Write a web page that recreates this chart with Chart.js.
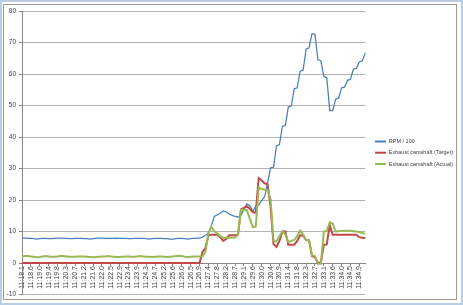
<!DOCTYPE html>
<html>
<head>
<meta charset="utf-8">
<script src="https://cdn.jsdelivr.net/npm/chart.js@4.4.1/dist/chart.umd.min.js"></script>
<style>
  html, body { margin: 0; padding: 0; background: #fff; }
  #wrap { position: relative; width: 463px; height: 305px; overflow: hidden; }
  canvas { position: absolute; left: 0; top: 0; }
  .frame-outer { position: absolute; left: 0; top: 0; width: 459px; height: 301px; border: 2px solid #b9cde5; pointer-events: none; }
  .frame-inner { position: absolute; left: 3px; top: 4px; width: 452px; height: 294px; border: 1px solid #9a9a9a; pointer-events: none; }
</style>
</head>
<body>
<div id="wrap">
  <canvas id="c" width="463" height="305"></canvas>
  <div class="frame-inner"></div>
  <div class="frame-outer"></div>
</div>
<script>
// Tick labels shown on the time axis (one label every 3 samples)
const tickLabels = ["11:18.1","11:18.6","11:19.0","11:19.4","11:19.8","11:20.3","11:20.7","11:21.2","11:21.6","11:22.0","11:22.5","11:22.9","11:23.4","11:23.9","11:24.3","11:24.7","11:25.2","11:25.6","11:26.0","11:26.5","11:26.9","11:27.4","11:27.8","11:28.2","11:28.7","11:29.1","11:29.6","11:30.0","11:30.4","11:30.9","11:31.4","11:31.8","11:32.3","11:32.7","11:33.1","11:33.6","11:34.0","11:34.5","11:34.9"];
const samplesPerLabel = 3;

const seriesNames = ["RPM / 100", "Exhaust camshaft (Target)", "Exhaust camshaft (Actual)"];

const rpm = [
  7.9,7.9,7.8,7.8,7.7,7.6,7.7,7.8,7.8,7.7,
  7.7,7.8,7.9,7.9,7.8,7.8,7.7,7.7,7.8,7.8,
  7.8,7.7,7.7,7.6,7.7,7.8,7.9,7.9,7.8,7.8,
  7.8,7.8,7.9,7.8,7.8,7.8,7.7,7.7,7.8,7.8,
  7.8,7.8,7.7,7.6,7.7,7.8,7.8,7.8,7.7,7.7,
  7.6,7.6,7.7,7.8,7.8,7.7,7.6,7.7,7.8,7.9,
  7.9,8.2,8.7,9.6,11.8,14.8,15.3,15.8,16.5,16.2,
  15.6,15.1,14.8,14.6,15.2,17.0,18.8,18.2,16.4,18.0,
  18.5,19.8,21.0,25.5,30.2,30.4,37.2,37.6,43.4,43.7,
  49.5,49.8,55.3,55.6,60.9,61.2,67.9,68.3,72.8,72.6,
  64.5,64.2,59.2,58.8,48.4,48.4,52.0,52.4,55.6,55.8,
  58.0,58.3,61.6,61.8,63.8,64.2,66.7
];

const camTarget = [
  0,0,0,0,0,0,0,0,0,0,
  0,0,0,0,0,0,0,0,0,0,
  0,0,0,0,0,0,0,0,0,0,
  0,0,0,0,0,0,0,0,0,0,
  0,0,0,0,0,0,0,0,0,0,
  0,0,0,0,0,0,0,0,0,0,
  0,3.5,4.8,8.8,9.0,9.0,9.0,8.2,7.0,7.6,
  8.8,8.8,8.8,9.0,17.0,17.5,18.0,17.2,16.1,16.0,
  27.0,26.2,25.3,25.0,17.9,6.0,5.1,7.0,10.0,10.0,
  5.8,5.8,5.8,7.0,8.8,8.7,7.3,7.2,2.2,1.8,
  0,0.2,5.8,5.9,12.0,9.0,9.0,9.0,9.0,9.0,
  9.0,9.0,9.0,9.0,8.2,8.0,7.9
];

const camActual = [
  2.1,2.2,2.2,2.1,2.0,1.8,1.9,2.1,2.2,2.1,
  2.0,2.0,2.1,2.2,2.2,2.1,2.0,2.0,2.0,2.1,
  2.1,2.1,2.0,1.9,1.8,1.9,2.0,2.1,2.1,2.2,
  2.1,2.0,1.9,1.9,2.0,2.1,2.1,2.0,2.0,2.1,
  2.2,2.1,2.0,2.0,1.9,2.0,2.1,2.1,2.0,1.9,
  2.0,2.1,2.2,2.3,2.2,2.0,1.9,2.0,2.1,2.1,
  2.1,2.1,3.5,9.5,11.5,10.0,9.4,8.5,8.0,8.0,
  8.0,8.0,8.0,9.0,16.9,16.9,16.8,14.0,11.4,11.6,
  24.0,23.5,23.3,23.2,20.2,7.0,6.9,8.5,10.0,9.0,
  6.7,7.0,7.3,8.5,10.3,9.0,7.3,7.2,2.4,2.2,
  -0.2,-0.2,10.0,10.2,12.9,12.5,10.0,10.1,10.2,10.2,
  10.2,10.2,10.1,10.0,9.8,9.5,9.3
];

// category list: each tick label followed by unlabeled samples
const categories = [];
tickLabels.forEach(t => { categories.push(t); for (let k = 1; k < samplesPerLabel; k++) categories.push(''); });
while (categories.length < rpm.length) categories.push('');

const FONT = "'Liberation Sans', Arial, sans-serif";

new Chart(document.getElementById('c'), {
  type: 'line',
  data: {
    labels: categories,
    datasets: [
      { label: seriesNames[0], data: rpm, borderColor: '#4a7ebb', backgroundColor: '#4a7ebb', borderWidth: 1.25, pointRadius: 0, tension: 0, order: 2 },
      { label: seriesNames[1], data: camTarget, borderColor: '#be4b48', backgroundColor: '#be4b48', borderWidth: 2, pointRadius: 0, tension: 0, order: 1 },
      { label: seriesNames[2], data: camActual, borderColor: '#98b954', backgroundColor: '#98b954', borderWidth: 2, pointRadius: 0, tension: 0, order: 0 }
    ]
  },
  options: {
    responsive: false,
    animation: false,
    devicePixelRatio: 1,
    layout: { padding: { left: 0, top: 11, right: 0, bottom: 10.5 } },
    plugins: {
      tooltip: { enabled: false },
      legend: {
        position: 'right',
        labels: {
          font: { family: FONT, size: 5.5 },
          color: '#404040',
          boxWidth: 11,
          boxHeight: 2,
          padding: 5.8,
          sort: (a, b) => a.datasetIndex - b.datasetIndex,
          generateLabels: (chart) => {
            const items = Chart.defaults.plugins.legend.labels.generateLabels(chart);
            items.forEach(it => { it.fillStyle = it.strokeStyle; it.lineWidth = 0; });
            return items;
          }
        }
      }
    },
    scales: {
      x: {
        type: 'category',
        position: { y: 0 },
        offset: false,
        afterFit: (s) => { s.height = 0; },
        grid: {
          drawOnChartArea: false,
          drawTicks: true,
          tickLength: 2,
          offset: false,
          color: (ctx) => (ctx.tick && ctx.tick.label !== '' ? '#868686' : 'rgba(0,0,0,0)')
        },
        border: { display: true, color: '#868686', width: 1 },
        ticks: {
          autoSkip: false,
          minRotation: 90,
          maxRotation: 90,
          padding: 1,
          color: '#404040',
          font: { family: FONT, size: 7 }
        }
      },
      y: {
        min: -10,
        max: 80,
        afterFit: (s) => { s.width = 22; },
        ticks: { stepSize: 10, color: '#404040', padding: 3, font: { family: FONT, size: 6.5 } },
        grid: { color: '#b3b3b3', lineWidth: 1, tickLength: 3, tickColor: '#868686' },
        border: { display: true, color: '#868686', width: 1 }
      },
      gap: {
        type: 'linear',
        position: 'right',
        display: false,
        afterFit: (s) => { s.width = 4; }
      }
    }
  }
});
</script>
</body>
</html>
